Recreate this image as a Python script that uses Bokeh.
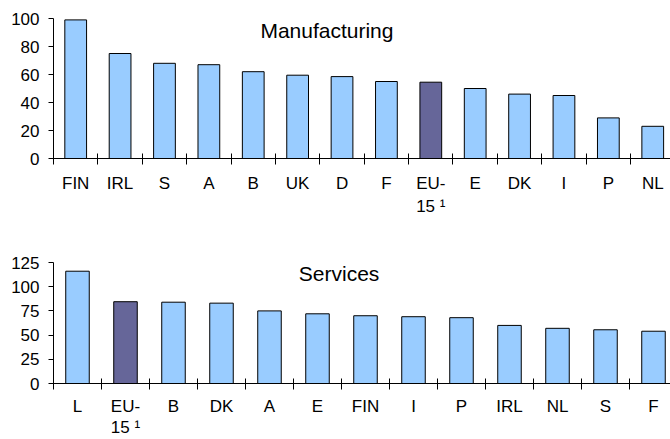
from bokeh.plotting import figure
from bokeh.layouts import column
from bokeh.models import Range1d, FixedTicker, ColumnDataSource
from bokeh.core.properties import value
from bokeh.embed import file_html
from bokeh.resources import INLINE

# ---- data ----
mfg_countries = ["FIN", "IRL", "S", "A", "B", "UK", "D", "F", "EU-15", "E", "DK", "I", "P", "NL"]
mfg_labels = ["FIN", "IRL", "S", "A", "B", "UK", "D", "F", "EU-\n15 \u00b9", "E", "DK", "I", "P", "NL"]
mfg_values = [99, 75, 68, 67, 62, 59.5, 58.5, 55, 54.5, 50, 46, 45, 29, 23]

srv_countries = ["L", "EU-15", "B", "DK", "A", "E", "FIN", "I", "P", "IRL", "NL", "S", "F"]
srv_labels = ["L", "EU-\n15 \u00b9", "B", "DK", "A", "E", "FIN", "I", "P", "IRL", "NL", "S", "F"]
srv_values = [116, 84.5, 84, 83, 75, 72, 70, 69, 68, 60, 57, 55.5, 54]

mfg_yticks = [0, 20, 40, 60, 80, 100]
srv_yticks = [0, 25, 50, 75, 100, 125]

FONT = "Liberation Sans"
BAR = "#99CCFF"
EU = "#666699"


def make_chart(cats, labels, vals, yticks, title, title_x, title_y, x_end,
               frame_w, frame_h, b_left, b_top, b_bottom, standoff, line_h):
    n = len(cats)
    xs = list(range(n))
    colors = [EU if c == "EU-15" else BAR for c in cats]
    src = ColumnDataSource(dict(x=xs, top=vals, color=colors))
    p = figure(frame_width=frame_w, frame_height=frame_h,
               x_range=Range1d(-0.5, x_end), y_range=Range1d(yticks[0], yticks[-1]),
               output_backend="svg", toolbar_location=None,
               min_border_left=b_left, min_border_right=0,
               min_border_top=b_top, min_border_bottom=b_bottom)
    p.outline_line_color = None
    p.xgrid.visible = False
    p.ygrid.visible = False
    p.background_fill_color = "white"
    p.border_fill_color = "white"

    p.vbar(x="x", top="top", bottom=0, width=0.49, source=src,
           fill_color="color", line_color="black", line_width=1)

    p.text(x=[title_x], y=[title_y], text=[title], text_font=value(FONT),
           text_font_size="21px", text_align="center", text_baseline="middle",
           text_color="black")

    xa = p.xaxis[0]
    xa.ticker = FixedTicker(ticks=xs, minor_ticks=[i - 0.5 for i in range(n + 1)])
    xa.major_label_overrides = {i: lab for i, lab in enumerate(labels)}
    xa.major_tick_in = 0
    xa.major_tick_out = 0
    xa.minor_tick_in = 5
    xa.minor_tick_out = 6
    xa.minor_tick_line_color = "black"
    xa.axis_line_color = "black"
    xa.major_label_text_font = FONT
    xa.major_label_text_font_size = "17px"
    xa.major_label_text_color = "black"
    xa.major_label_standoff = standoff
    xa.major_label_text_line_height = line_h

    ya = p.yaxis[0]
    ya.ticker = FixedTicker(ticks=yticks)
    ya.minor_tick_line_color = None
    ya.major_tick_in = 0
    ya.major_tick_out = 5
    ya.major_tick_line_color = "black"
    ya.axis_line_color = "black"
    ya.major_label_text_font = FONT
    ya.major_label_text_font_size = "17px"
    ya.major_label_text_color = "black"
    ya.major_label_standoff = 9
    return p


p1 = make_chart(mfg_countries, mfg_labels, mfg_values, mfg_yticks,
                "Manufacturing", 5.66, 91.5, 13.4,
                617, 140, 53, 18, 70, 9, 1.25)
p2 = make_chart(srv_countries, srv_labels, srv_values, srv_yticks,
                "Services", 5.45, 114, 12.375,
                618, 121, 52, 34, 56, 7, 1.12)

layout = column(p1, p2, spacing=0)
open("out.html", "w").write(file_html(layout, INLINE))
